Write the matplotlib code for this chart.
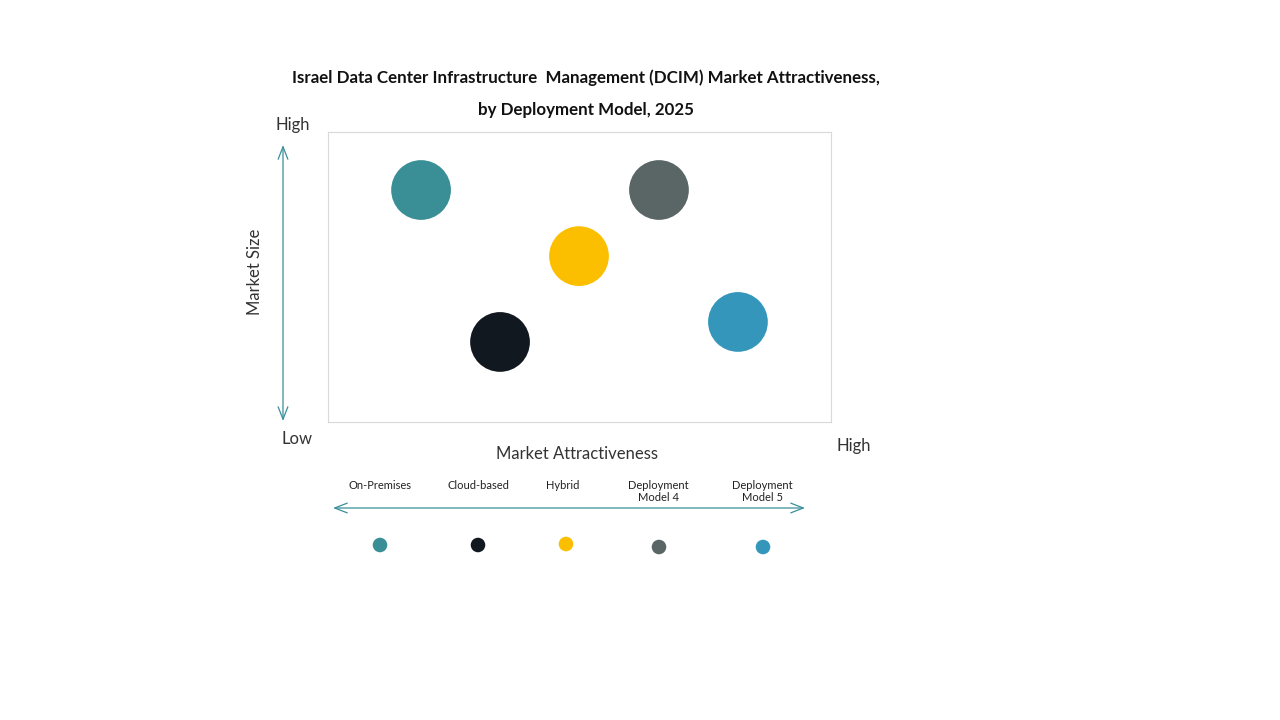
import matplotlib.pyplot as plt

segments = ["On-Premises", "Cloud-based", "Hybrid", "Deployment\nModel 4", "Deployment\nModel 5"]
attractiveness = [1.85, 3.42, 4.99, 6.58, 8.15]
market_size = [8.0, 2.76, 5.72, 8.0, 3.45]
colors = ["#3a8f96", "#111820", "#fbbf00", "#5a6666", "#3596bb"]

plt.rcParams['font.family'] = ['Lato', 'DejaVu Sans']

fig = plt.figure(figsize=(12.8, 7.2), dpi=100)

# overlay in pixel coords for arrows and labels
over = fig.add_axes([0, 0, 1, 1])
over.set_xlim(0, 1280)
over.set_ylim(720, 0)
over.axis('off')

ax = fig.add_axes([328 / 1280, 1 - 422 / 720, 503 / 1280, 290 / 720])
ax.scatter(attractiveness, market_size, s=1850, c=colors, edgecolors='none')
ax.set_xlim(0, 10)
ax.set_ylim(0, 10)
ax.set_xticks([])
ax.set_yticks([])
for sp in ax.spines.values():
    sp.set_color('#d9d9d9')
    sp.set_linewidth(0.8)

arrow_col = "#3a8f9a"
arrow_props = dict(arrowstyle="<->,head_length=0.9,head_width=0.35", color=arrow_col, lw=0.9,
                   shrinkA=0, shrinkB=0)
over.annotate("", xy=(283, 145), xytext=(283, 421), arrowprops=arrow_props)
over.annotate("", xy=(333, 508), xytext=(805, 508), arrowprops=arrow_props)

over.text(586, 78, "Israel Data Center Infrastructure  Management (DCIM) Market Attractiveness,",
          ha='center', va='center', fontsize=12.2, fontweight='bold', color='#111111')
over.text(586, 110, "by Deployment Model, 2025",
          ha='center', va='center', fontsize=12.2, fontweight='bold', color='#111111')

txt = '#333333'
over.text(293, 125, "High", ha='center', va='center', fontsize=12, color=txt)
over.text(297, 439, "Low", ha='center', va='center', fontsize=12, color=txt)
over.text(854, 446, "High", ha='center', va='center', fontsize=12, color=txt)
over.text(255, 272, "Market Size", ha='center', va='center', fontsize=12, color=txt, rotation=90)
over.text(577, 454, "Market Attractiveness", ha='center', va='center', fontsize=12, color=txt)

legend_x = [380, 478, 566, 659, 763]
legend_y = [545, 545, 544, 547, 547]
label_x = [380, 478, 563, 658, 762]
for lx, tx, ly, name, col in zip(legend_x, label_x, legend_y, segments, colors):
    over.text(tx, 480, name, ha='center', va='top', fontsize=8, color='#222222', linespacing=1.1)
    over.scatter([lx], [ly], s=110, color=col, edgecolors='none')

fig.savefig("out.png", dpi=100, facecolor='white')
